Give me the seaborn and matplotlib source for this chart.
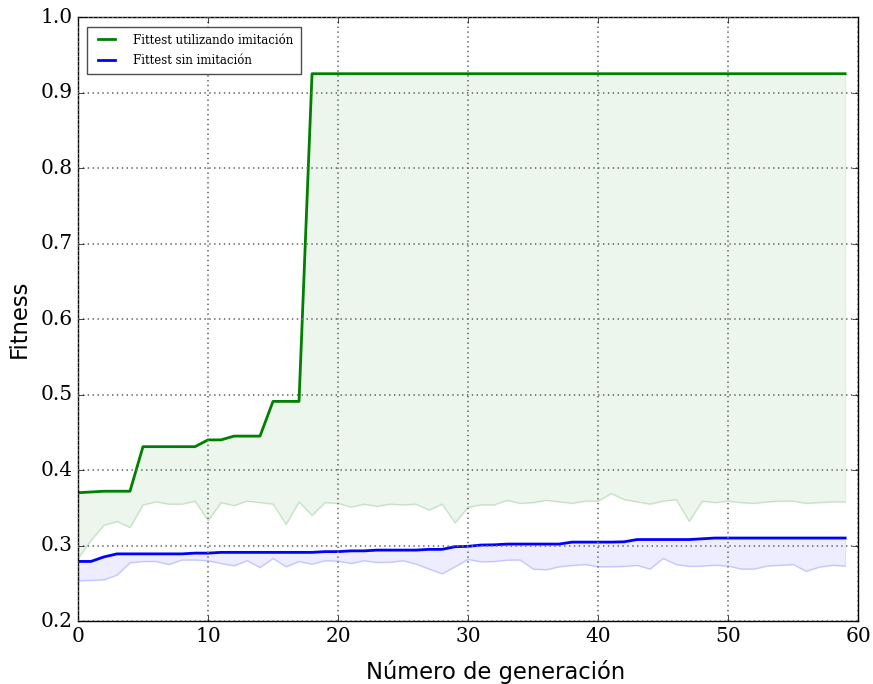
import numpy as np
import pandas as pd
import matplotlib
matplotlib.use("Agg")
import matplotlib.pyplot as plt
import seaborn as sns

generaciones = list(range(60))

fittest_imitacion = [0.370, 0.371, 0.372, 0.372, 0.372, 0.431, 0.431, 0.431, 0.431, 0.431,
                     0.440, 0.440, 0.445, 0.445, 0.445, 0.491, 0.491, 0.491] + [0.925] * 42
inferior_imitacion = [0.283, 0.307, 0.327, 0.332, 0.324, 0.354, 0.358, 0.355, 0.355, 0.359,
                      0.333, 0.357, 0.353, 0.359, 0.357, 0.355, 0.328, 0.358, 0.340, 0.357,
                      0.356, 0.351, 0.355, 0.352, 0.355, 0.354, 0.355, 0.347, 0.355, 0.330,
                      0.351, 0.354, 0.354, 0.360, 0.356, 0.357, 0.360, 0.358, 0.356, 0.359,
                      0.359, 0.369, 0.361, 0.358, 0.355, 0.359, 0.361, 0.332, 0.359, 0.357,
                      0.359, 0.357, 0.356, 0.358, 0.359, 0.359, 0.356, 0.357, 0.358, 0.358]

fittest_sin = [0.279, 0.279, 0.285, 0.289, 0.289, 0.289, 0.289, 0.289, 0.289, 0.290,
               0.290, 0.291, 0.291, 0.291, 0.291, 0.291, 0.291, 0.291, 0.291, 0.292,
               0.292, 0.293, 0.293, 0.294, 0.294, 0.294, 0.294, 0.295, 0.295, 0.2985,
               0.299, 0.3007, 0.301, 0.302, 0.302, 0.302, 0.302, 0.302, 0.3046, 0.3046,
               0.3046, 0.3046, 0.305, 0.308, 0.308, 0.308, 0.308, 0.308, 0.309, 0.310,
               0.310, 0.310, 0.310, 0.310, 0.310, 0.310, 0.310, 0.310, 0.310, 0.310]
inferior_sin = [0.2534, 0.254, 0.2548, 0.261, 0.2773, 0.279, 0.279, 0.275, 0.281, 0.281,
                0.280, 0.2764, 0.2733, 0.280, 0.271, 0.283, 0.272, 0.279, 0.2755, 0.280,
                0.2795, 0.2764, 0.280, 0.2777, 0.278, 0.280, 0.2755, 0.269, 0.2627, 0.272,
                0.2817, 0.2786, 0.279, 0.2808, 0.281, 0.269, 0.268, 0.272, 0.2738, 0.275,
                0.272, 0.272, 0.2725, 0.2738, 0.269, 0.283, 0.275, 0.2725, 0.273, 0.274,
                0.273, 0.269, 0.269, 0.273, 0.274, 0.275, 0.266, 0.2715, 0.274, 0.273]

df = pd.DataFrame({
    "gen": generaciones * 2,
    "fitness": fittest_imitacion + fittest_sin,
    "serie": ["Fittest utilizando imitación"] * 60 + ["Fittest sin imitación"] * 60,
})

plt.style.use("classic")
fig = plt.figure(figsize=(8.73, 6.84), dpi=100, facecolor="white")
ax = fig.add_axes([0.0893, 0.092, 0.8937, 0.883])

sns.lineplot(data=df, x="gen", y="fitness", hue="serie",
             palette={"Fittest utilizando imitación": "g", "Fittest sin imitación": "b"},
             linewidth=2, ax=ax)

ax.fill_between(generaciones, inferior_imitacion, fittest_imitacion,
                facecolor="g", edgecolor="g", alpha=0.07)
ax.plot(generaciones, inferior_imitacion, color="g", alpha=0.12, lw=1)
ax.fill_between(generaciones, inferior_sin, fittest_sin,
                facecolor="b", edgecolor="b", alpha=0.07)
ax.plot(generaciones, inferior_sin, color="b", alpha=0.12, lw=1)

ax.set_xlim(0, 60)
ax.set_ylim(0.2, 1.0)
ax.set_xticks(range(0, 61, 10))
ax.set_yticks(np.arange(0.2, 1.01, 0.1))
ax.set_yticklabels(["0.2", "0.3", "0.4", "0.5", "0.6", "0.7", "0.8", "0.9", "1.0"])
ax.grid(True, linestyle=(0, (1, 2.5)), color="0.45", linewidth=1.3)

for lab in ax.get_xticklabels() + ax.get_yticklabels():
    lab.set_family("DejaVu Serif")
    lab.set_fontsize(14.5)

ax.set_xlabel("Número de generación", fontsize=16.3, family="DejaVu Sans")
ax.set_ylabel("Fitness", fontsize=16.3, family="DejaVu Sans")
ax.xaxis.set_label_coords(0.535, -0.064)
ax.yaxis.set_label_coords(-0.061, 0.5)

leg = ax.legend(loc="upper left", prop={"family": "DejaVu Serif", "size": 8.5},
                fancybox=False, frameon=True, borderaxespad=0.8, borderpad=0.6,
                labelspacing=0.6, handlelength=2.0, handletextpad=1.3)
leg.get_frame().set_edgecolor("0.3")

fig.savefig("out.png", dpi=100, facecolor="white")
